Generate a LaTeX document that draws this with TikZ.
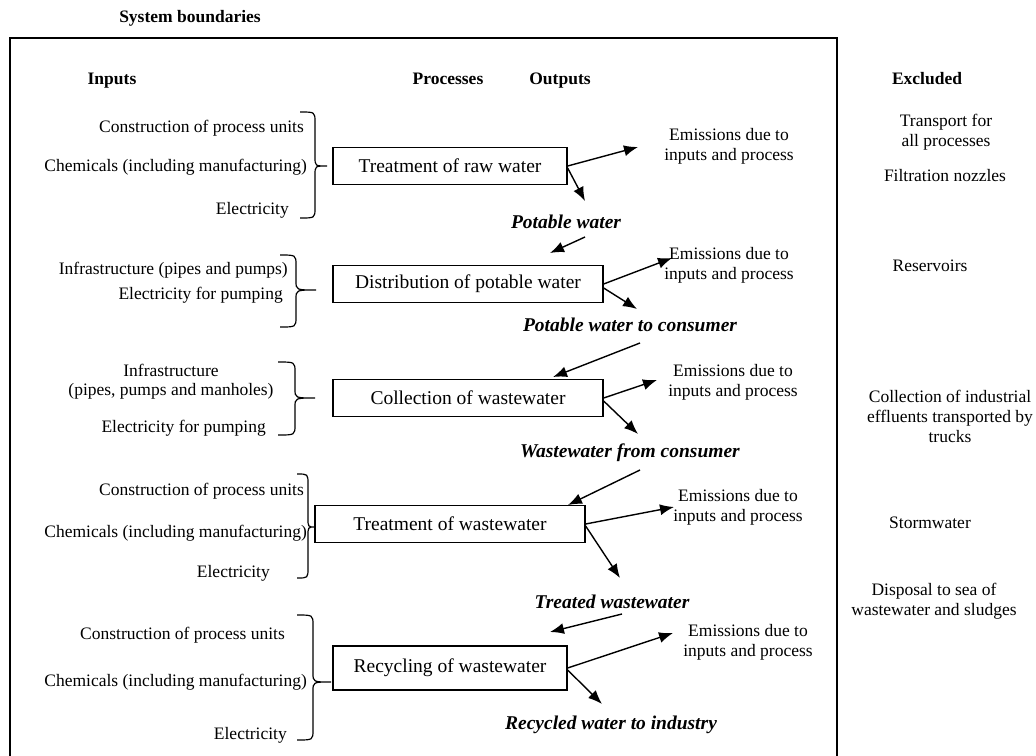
\documentclass[tikz,border=0pt]{standalone}
\usepackage{fontspec}
\setmainfont{Liberation Serif}
\usetikzlibrary{arrows.meta}
\begin{document}
\begin{tikzpicture}[x=1pt,y=-1pt,
  txt/.style={font=\fontsize{17.5}{20}\selectfont, inner sep=0pt, align=center},
  lbl/.style={font=\fontsize{17.5}{20}\selectfont, inner sep=0pt, anchor=east},
  hdr/.style={font=\fontsize{17.5}{20}\selectfont\bfseries, inner sep=0pt, anchor=base},
  pbox/.style={draw, line width=1.3pt, font=\fontsize{19.5}{22}\selectfont, minimum height=37pt, inner sep=0pt},
  outl/.style={font=\fontsize{19.5}{22}\selectfont\bfseries\itshape, inner sep=0pt},
  arr/.style={line width=1.4pt, -{Latex[length=14pt,width=11pt]}},
  brc/.style={line width=1.2pt},
]
\useasboundingbox (0,0) rectangle (1036,755);
% frame and title
\draw[line width=1.3pt] (10,756) -- (10,38) -- (837,38) -- (837,756);
\node[hdr] (title) at (190,22) {System boundaries};
\node[hdr] (hin) at (112,84) {Inputs};
\node[hdr] (hpr) at (448,84) {Processes};
\node[hdr] (hout) at (560,84) {Outputs};
\node[hdr] (hex) at (927,84) {Excluded};

% ---------- Row 1
\node[lbl] (i11) at (304,128) {Construction of process units};
\node[lbl] (i12) at (307,167) {Chemicals (including manufacturing)};
\node[lbl] (i13) at (289,210) {Electricity};
\draw[brc] (300,112) .. controls (315,112) .. (315,122) -- (315,157) .. controls (315,166) .. (327,166) .. controls (315,166) .. (315,175) -- (315,208) .. controls (315,218) .. (300,218);
\node[pbox, minimum width=234pt] (b1) at (450,166) {Treatment of raw water};
\node[txt] (e1) at (729,146) {Emissions due to\\inputs and process};
\coordinate (e1a) at (638,147);
\draw[arr] (b1.east) -- (e1a);
\node[outl] (o1) at (566,222) {Potable water};
\coordinate (d1) at (585,201);
\draw[arr] ([yshift=-2pt]b1.east) -- (d1);
\coordinate (s1) at (585,237);
\coordinate (t1) at (550,253);
\draw[arr] (s1) -- (t1);

% ---------- Row 2
\node[lbl] (i21) at (288,270) {Infrastructure (pipes and pumps)};
\node[lbl] (i22) at (283,295) {Electricity for pumping};
\draw[brc] (280,255) .. controls (296,255) .. (296,265) -- (296,281) .. controls (296,290) .. (316,290) .. controls (296,290) .. (296,299) -- (296,317) .. controls (296,327) .. (280,327);
\node[pbox, minimum width=270pt] (b2) at (468,284) {Distribution of potable water};
\node[txt] (e2) at (729,265) {Emissions due to\\inputs and process};
\coordinate (e2a) at (672,258);
\draw[arr] (b2.east) -- (e2a);
\node[outl] (o2) at (630,325) {Potable water to consumer};
\coordinate (d2) at (637,309);
\draw[arr] ([yshift=-4pt]b2.east) -- (d2);
\coordinate (s2) at (640,343);
\coordinate (t2) at (553,377);
\draw[arr] (s2) -- (t2);

% ---------- Row 3
\node[txt] (i31) at (171,370) {Infrastructure};
\node[txt] (i32) at (171,391) {(pipes, pumps and manholes)};
\node[lbl] (i33) at (266,428) {Electricity for pumping};
\draw[brc] (278,362) .. controls (295,362) .. (295,372) -- (295,389) .. controls (295,398) .. (315,398) .. controls (295,398) .. (295,407) -- (295,425) .. controls (295,435) .. (278,435);
\node[pbox, minimum width=270pt] (b3) at (468,398) {Collection of wastewater};
\node[txt] (e3) at (733,382) {Emissions due to\\inputs and process};
\coordinate (e3a) at (657,380);
\draw[arr] (b3.east) -- (e3a);
\node[outl] (o3) at (630,453) {Wastewater from consumer};
\coordinate (d3) at (638,434);
\draw[arr] ([yshift=-3pt]b3.east) -- (d3);
\coordinate (s3) at (640,470);
\draw[arr] (s3) -- (568,505);

% ---------- Row 4
\node[lbl] (i41) at (304,491) {Construction of process units};
\node[lbl] (i42) at (307,533) {Chemicals (including manufacturing)};
\node[lbl] (i43) at (270,573) {Electricity};
\draw[brc] (297,474) .. controls (308,474) .. (308,484) -- (308,518) .. controls (308,527) .. (315,527) .. controls (308,527) .. (308,536) -- (308,568) .. controls (308,578) .. (297,578);
\node[pbox, minimum width=270pt] (b4) at (450,524) {Treatment of wastewater};
\node[txt] (e4) at (738,507) {Emissions due to\\inputs and process};
\coordinate (e4a) at (674,507);
\draw[arr] (b4.east) -- (e4a);
\node[outl] (o4) at (612,602) {Treated wastewater};
\coordinate (d4) at (620,578);
\draw[arr] ([yshift=-2pt]b4.east) -- (d4);
\coordinate (s4) at (622,614);
\coordinate (t4) at (550,632);
\draw[arr] (s4) -- (t4);

% ---------- Row 5
\node[lbl] (i51) at (285,635) {Construction of process units};
\node[lbl] (i52) at (307,682) {Chemicals (including manufacturing)};
\node[lbl] (i53) at (287,735) {Electricity};
\draw[brc] (297,615) .. controls (313,615) .. (313,625) -- (313,673) .. controls (313,682) .. (331,682) .. controls (313,682) .. (313,691) -- (313,730) .. controls (313,740) .. (297,740);
\node[pbox, minimum width=234pt, minimum height=44pt] (b5) at (450,668) {Recycling of wastewater};
\node[txt] (e5) at (748,642) {Emissions due to\\inputs and process};
\coordinate (e5a) at (673,633);
\draw[arr] (b5.east) -- (e5a);
\node[outl] (o5) at (611,725) {Recycled water to industry};
\coordinate (d5) at (602,704);
\draw[arr] ([yshift=-2pt]b5.east) -- (d5);

% ---------- Excluded
\node[txt] (x1) at (946,132) {Transport for\\all processes};
\node[txt] (x2) at (945,176) {Filtration nozzles};
\node[txt] (x3) at (930,266) {Reservoirs};
\node[txt] (x4) at (950,416) {Collection of industrial\\effluents transported by\\trucks};
\node[txt] (x5) at (930,523) {Stormwater};
\node[txt] (x6) at (934,601) {Disposal to sea of\\wastewater and sludges};
\end{tikzpicture}
\end{document}
